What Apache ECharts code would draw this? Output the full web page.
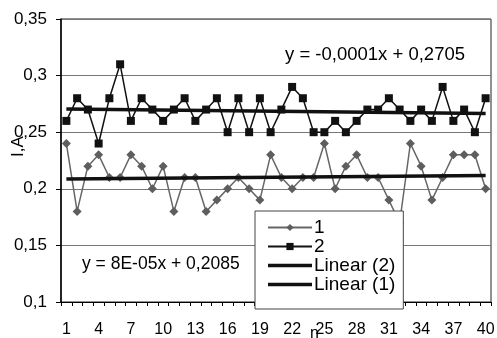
<!DOCTYPE html>
<html>
<head>
<meta charset="utf-8">
<script src="https://cdn.jsdelivr.net/npm/echarts@6/dist/echarts.min.js"></script>
<style>
  html, body { margin: 0; padding: 0; background: #fff; }
  #main { width: 497px; height: 338px; }
</style>
</head>
<body>
<div id="main"></div>
<script>
// measurement number n = 1..40
const categories = [];
for (let i = 1; i <= 40; i++) categories.push(String(i));

// current, A
const series1 = [0.24, 0.18, 0.22, 0.23, 0.21, 0.21, 0.23, 0.22, 0.20, 0.22,
                 0.18, 0.21, 0.21, 0.18, 0.19, 0.20, 0.21, 0.20, 0.19, 0.23,
                 0.21, 0.20, 0.21, 0.21, 0.24, 0.20, 0.22, 0.23, 0.21, 0.21,
                 0.19, 0.17, 0.24, 0.22, 0.19, 0.21, 0.23, 0.23, 0.23, 0.20];
const series2 = [0.26, 0.28, 0.27, 0.24, 0.28, 0.31, 0.26, 0.28, 0.27, 0.26,
                 0.27, 0.28, 0.26, 0.27, 0.28, 0.25, 0.28, 0.25, 0.28, 0.25,
                 0.27, 0.29, 0.28, 0.25, 0.25, 0.26, 0.25, 0.26, 0.27, 0.27,
                 0.28, 0.27, 0.26, 0.27, 0.26, 0.29, 0.26, 0.27, 0.25, 0.28];

// trend line end points [category index, value]
const linear2 = [[0, 0.2704], [39, 0.2665]];
const linear1 = [[0, 0.2086], [39, 0.2117]];

const eq2 = 'y = -0,0001x + 0,2705';
const eq1 = 'y = 8E-05x + 0,2085';

const font = 'Arial, "Liberation Sans", sans-serif';
const barIcon = 'path://M0,0L44,0L44,3.5L0,3.5Z';

const chart = echarts.init(document.getElementById('main'));
chart.setOption({
    animation: false,
    backgroundColor: '#fff',
    textStyle: { fontFamily: font, color: '#000' },
    grid: {
        left: 61, right: 6, top: 19, bottom: 36,
        outerBoundsMode: 'none',
        show: true, borderColor: '#222', borderWidth: 1
    },
    legend: {
        orient: 'vertical',
        left: 255, top: 211,
        padding: [7, 8, 15, 12],
        itemWidth: 44, itemHeight: 9, itemGap: 0,
        backgroundColor: '#fff',
        borderColor: '#444', borderWidth: 1, borderRadius: 0,
        textStyle: { fontSize: 19, lineHeight: 19, fontFamily: font, color: '#000', padding: [0, 0, 0, -3] },
        data: ['1', '2',
               { name: 'Linear (2)', icon: barIcon },
               { name: 'Linear (1)', icon: barIcon }]
    },
    xAxis: {
        type: 'category',
        data: categories,
        boundaryGap: true,
        name: 'n',
        nameLocation: 'middle',
        nameGap: 24,
        nameMoveOverlap: false,
        nameTextStyle: { fontSize: 16, padding: [0, 0, 0, 77] },
        axisLine: { lineStyle: { color: '#000', width: 1 } },
        axisTick: { show: true, length: 4, interval: 0, lineStyle: { color: '#000' } },
        axisLabel: { interval: 2, fontSize: 16, margin: 20, color: '#000' },
        splitLine: { show: false }
    },
    yAxis: {
        type: 'value',
        min: 0.1, max: 0.35, interval: 0.05,
        name: 'I,A',
        nameLocation: 'middle',
        nameGap: 34,
        nameMoveOverlap: false,
        nameTextStyle: { fontSize: 17, padding: [0, 0, 0, 28] },
        axisLine: { show: true, lineStyle: { color: '#000', width: 1.5 } },
        axisTick: { show: true, length: 5, lineStyle: { color: '#000' } },
        axisLabel: {
            fontSize: 17, margin: 14, color: '#000',
            formatter: v => String(+v.toFixed(2)).replace('.', ',')
        },
        splitLine: { lineStyle: { color: '#777', width: 1 } }
    },
    series: [
        {
            name: '1', type: 'line', data: series1,
            symbol: 'diamond', symbolSize: 9, showAllSymbol: true,
            itemStyle: { color: '#5e5e5e' },
            lineStyle: { color: '#666', width: 1.5 },
            z: 2
        },
        {
            name: '2', type: 'line', data: series2,
            symbol: 'rect', symbolSize: 8, showAllSymbol: true,
            itemStyle: { color: '#111' },
            lineStyle: { color: '#111', width: 1.5 },
            z: 2
        },
        {
            name: 'Linear (2)', type: 'line', data: linear2,
            symbol: 'none',
            itemStyle: { color: '#111' },
            lineStyle: { color: '#111', width: 3.5 },
            z: 3
        },
        {
            name: 'Linear (1)', type: 'line', data: linear1,
            symbol: 'none',
            itemStyle: { color: '#111' },
            lineStyle: { color: '#111', width: 3.5 },
            z: 3
        }
    ],
    graphic: [
        { type: 'text', left: 285, top: 45, z: 5,
          style: { text: eq2, fontSize: 18.5, fontFamily: font, fill: '#000' } },
        { type: 'text', left: 82, top: 255, z: 5,
          style: { text: eq1, fontSize: 17.5, fontFamily: font, fill: '#000' } }
    ]
});
</script>
</body>
</html>
